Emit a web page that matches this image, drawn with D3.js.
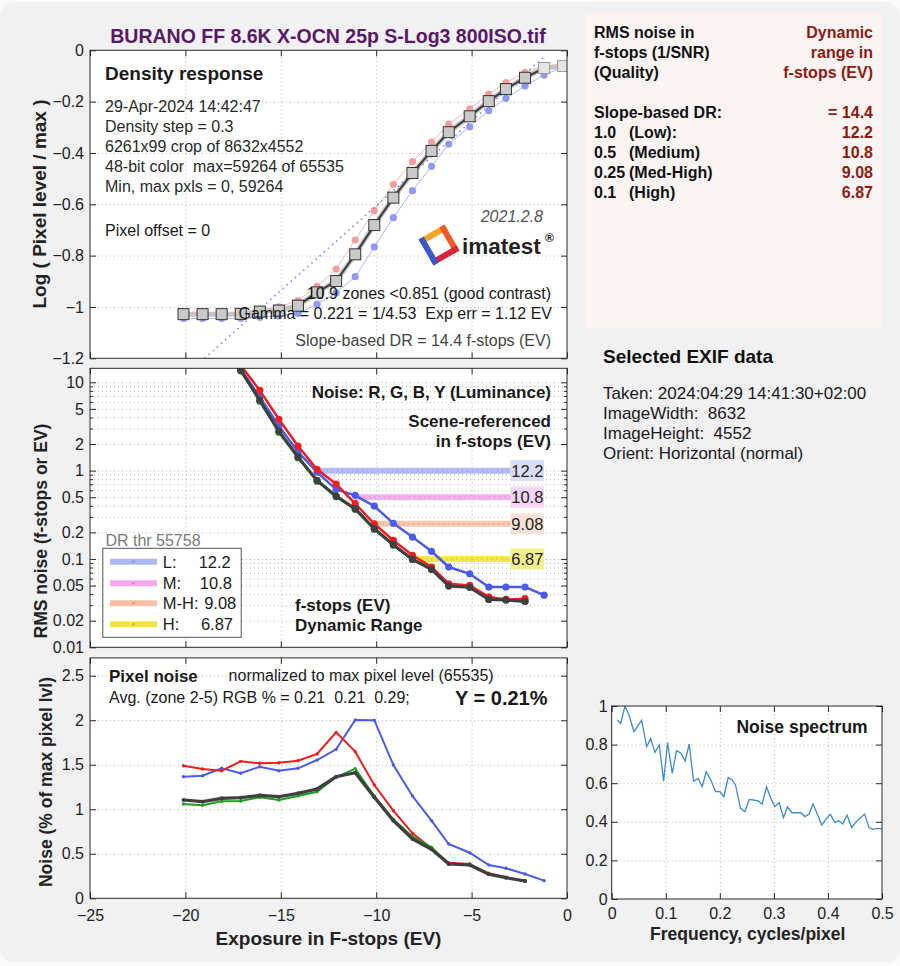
<!DOCTYPE html>
<html><head><meta charset="utf-8">
<script src="https://cdn.jsdelivr.net/npm/d3@7"></script>
<style>
body{margin:0;background:#fafafa;}
svg{display:block;}
text{font-family:"Liberation Sans",Arial,Helvetica,sans-serif;white-space:pre;}
</style>
</head><body>
<svg id="c" width="900" height="966"></svg>
<script>
// ---------------- DATA ----------------
const evStops = [-20.1,-19.1,-18.1,-17.1,-16.1,-15.1,-14.1,-13.1,-12.1,-11.1,-10.1,-9.1,-8.1,-7.1,-6.2,-5.1,-4.1,-3.2,-2.2,-1.2,-0.2];

// Density response: log(pixel level / max)
const densityY = [-1.028,-1.028,-1.028,-1.027,-1.018,-1.014,-0.995,-0.943,-0.899,-0.795,-0.681,-0.574,-0.478,-0.392,-0.319,-0.257,-0.198,-0.151,-0.107,-0.069,-0.061];
const densityR = [-1.025,-1.025,-1.025,-1.024,-1.012,-1.0,-0.975,-0.92,-0.852,-0.739,-0.625,-0.522,-0.434,-0.358,-0.288,-0.228,-0.171,-0.126,-0.086,-0.060,-0.058];
const densityB = [-1.045,-1.045,-1.045,-1.044,-1.04,-1.035,-1.025,-0.989,-0.945,-0.882,-0.766,-0.652,-0.547,-0.452,-0.365,-0.298,-0.235,-0.187,-0.139,-0.096,-0.065];
const slopeLineEV = [-19.0, -1.2];
const slopeLineLog = [-1.2, -0.025];

// RMS noise in f-stops (start at evStops[3])
const noiseFirst = 3;
const noiseR = [15.5,8.1,3.81,1.90,1.035,0.705,0.422,0.25,0.162,0.110,0.081,0.0524,0.0502,0.0372,0.0348,0.0355];
const noiseG = [13.5,6.1,2.72,1.40,0.76,0.505,0.365,0.217,0.143,0.099,0.077,0.051,0.049,0.0352,0.0345,0.0335];
const noiseB = [14.2,6.8,3.2,1.63,0.96,0.614,0.525,0.397,0.253,0.177,0.122,0.081,0.068,0.048,0.048,0.048,0.0389];
const noiseY = [13.7,6.25,2.79,1.43,0.776,0.515,0.371,0.22,0.145,0.0988,0.0762,0.0493,0.0477,0.0348,0.0343,0.033];

// Dynamic range thresholds
const drNames = ["L:","M:","M-H:","H:"];
const drLevels = [1.0, 0.5, 0.25, 0.1];
const drStartEV = [-13.1, -11.15, -10.15, -8.15];
const drEndEV = -2.96;
const drLabels = ["12.2","10.8","9.08","6.87"];

// Pixel noise (% of max pixel level)
const pixR = [1.489,1.452,1.433,1.538,1.516,1.523,1.545,1.621,1.864,1.647,1.272,0.984,0.730,0.561,0.400,0.385,0.281,0.236,0.194];
const pixG = [1.059,1.044,1.089,1.093,1.134,1.104,1.149,1.197,1.359,1.456,1.149,0.887,0.692,0.573,0.385,0.385,0.27,0.232,0.192];
const pixB = [1.366,1.377,1.46,1.404,1.478,1.433,1.46,1.553,1.673,2.002,2.0,1.497,1.149,0.872,0.610,0.512,0.374,0.337,0.273,0.198];
const pixY = [1.104,1.085,1.123,1.13,1.157,1.141,1.179,1.228,1.366,1.411,1.134,0.872,0.666,0.55,0.385,0.374,0.27,0.232,0.194];

// Noise spectrum
const specFreq = [0.0104,0.0166,0.0246,0.0320,0.0412,0.0554,0.0646,0.0720,0.0800,0.0880,0.0960,0.1034,0.1120,0.1200,0.1280,0.1360,0.1434,0.1514,0.1600,0.1674,0.1748,0.1834,0.1921,0.2001,0.2075,0.2155,0.2229,0.2290,0.2383,0.2463,0.2543,0.2616,0.2709,0.2783,0.2863,0.2943,0.3017,0.3097,0.3177,0.3251,0.3337,0.3417,0.3497,0.3571,0.3645,0.3725,0.3805,0.3885,0.3965,0.4045,0.4125,0.4199,0.4273,0.4353,0.4439,0.4513,0.4593,0.4679,0.4759,0.4833,0.4913,0.5000];
const specVal = [0.927,0.910,1.0,0.953,0.867,0.927,0.789,0.832,0.760,0.798,0.611,0.810,0.651,0.769,0.755,0.715,0.803,0.611,0.625,0.582,0.660,0.617,0.556,0.556,0.530,0.629,0.617,0.591,0.470,0.452,0.516,0.513,0.508,0.492,0.582,0.522,0.478,0.499,0.421,0.478,0.447,0.447,0.447,0.427,0.439,0.492,0.439,0.383,0.415,0.439,0.397,0.406,0.389,0.435,0.370,0.397,0.418,0.440,0.370,0.361,0.366,0.363];

// Ticks
const xTicks = [-25,-20,-15,-10,-5,0];
const densTicks = [-1.2,-1,-0.8,-0.6,-0.4,-0.2,0];
const noiseTicks = [0.01,0.02,0.05,0.1,0.2,0.5,1,2,5,10];
const noiseTickLabels = ["0.01","0.02","0.05","0.1","0.2","0.5","1","2","5","10"];
const pixTicks = [0,0.5,1,1.5,2,2.5];
const specXTicks = [0,0.1,0.2,0.3,0.4,0.5];
const specYTicks = [0,0.2,0.4,0.6,0.8,1];

// Text blocks
const densityInfo = ["29-Apr-2024 14:42:47","Density step = 0.3","6261x99 crop of 8632x4552","48-bit color  max=59264 of 65535","Min, max pxls = 0, 59264"];
const drTableLeft = [["RMS noise in",""],["f-stops (1/SNR)",""],["(Quality)",""],null,["Slope-based DR:",""],["1.0","(Low):"],["0.5","(Medium)"],["0.25","(Med-High)"],["0.1","(High)"]];
const drTableRight = ["Dynamic","range in","f-stops (EV)",null,"= 14.4","12.2","10.8","9.08","6.87"];
const exifLines = ["Taken: 2024:04:29 14:41:30+02:00","ImageWidth:  8632","ImageHeight:  4552","Orient: Horizontal (normal)"];

// ---------------- DRAW ----------------
const svg = d3.select("#c");
const FONT = '"Liberation Sans",Arial,Helvetica,sans-serif';
const COL = {R:"#f01e1e", G:"#1f9e1f", B:"#4a5cf0", Y:"#3f3f3f"};
const numFmt = d3.format("");

function T(g,x,y,s,o={}){
  const t=g.append("text").attr("x",x).attr("y",y).text(s)
    .attr("font-size",o.size||16).attr("font-weight",o.bold?"bold":"normal")
    .attr("text-anchor",o.anchor||"start").attr("fill",o.fill||"#1a1a1a");
  if(o.italic) t.attr("font-style","italic");
  return t;
}
function RT(g,x,y,s,o={}){
  return T(g,0,0,s,Object.assign({},o,{anchor:"middle"})).attr("dy","0.35em")
    .attr("transform",`translate(${x},${y}) rotate(-90)`);
}

svg.append("rect").attr("width",900).attr("height",966).attr("fill","#fafafa");
svg.append("rect").attr("x",0).attr("y",2).attr("width",900).attr("height",960).attr("rx",14).attr("fill","#f1f0f3");
svg.append("rect").attr("x",585).attr("y",13).attr("width",297).attr("height",315).attr("fill","#fcf4f3");

const xEV = d3.scaleLinear().domain([-25,0]).range([90,567]);
const yDen = d3.scaleLinear().domain([-1.2,0]).range([358.3,50.3]);
const yNoise = d3.scaleLog().domain([0.01,14.4]).range([647.3,368.3]);
const yPix = d3.scaleLinear().domain([0,2.7]).range([898.3,657.9]);
const xSpec = d3.scaleLinear().domain([0,0.5]).range([611.7,882]);
const ySpec = d3.scaleLinear().domain([0,1]).range([899,706]);

let clipN=0;
function panelBase(x,y,xg,yg){
  const [x0,x1]=x.range(), [yb,yt]=y.range();
  const g=svg.append("g");
  g.append("rect").attr("x",x0).attr("y",yt).attr("width",x1-x0).attr("height",yb-yt).attr("fill","#fff");
  const a=g.append("g");
  a.append("g").attr("transform",`translate(0,${yb})`).call(d3.axisBottom(x).tickValues(xg).tickSize(-(yb-yt)).tickFormat(""));
  a.append("g").attr("transform",`translate(${x0},0)`).call(d3.axisLeft(y).tickValues(yg).tickSize(-(x1-x0)).tickFormat(""));
  a.selectAll(".domain").remove();
  a.selectAll("line").attr("stroke","#a9a9a9").attr("stroke-dasharray","1,3").attr("stroke-width",0.9);
  const id="clip"+(clipN++);
  svg.append("clipPath").attr("id",id).append("rect").attr("x",x0).attr("y",yt).attr("width",x1-x0).attr("height",yb-yt);
  const d=g.append("g").attr("clip-path",`url(#${id})`);
  return {g,d};
}
function frame(g,x,y,o){
  const [x0,x1]=x.range(), [yb,yt]=y.range();
  const a=g.append("g");
  a.append("g").attr("transform",`translate(0,${yb})`).call(d3.axisBottom(x).tickValues(o.xt).tickSize(-6).tickPadding(o.xpad||11).tickFormat(o.xf===undefined?"":o.xf));
  a.append("g").attr("transform",`translate(0,${yt})`).call(d3.axisTop(x).tickValues(o.xt).tickSize(-6).tickFormat(""));
  a.append("g").attr("transform",`translate(${x0},0)`).call(d3.axisLeft(y).tickValues(o.yt).tickSize(-6).tickPadding(o.ypad||6).tickFormat(o.yf===undefined?numFmt:o.yf));
  a.append("g").attr("transform",`translate(${x1},0)`).call(d3.axisRight(y).tickValues(o.yt).tickSize(-6).tickFormat(""));
  if(o.minor){
    a.append("g").attr("transform",`translate(${x0},0)`).call(d3.axisLeft(y).tickValues(o.minor).tickSize(-3).tickFormat(""));
    a.append("g").attr("transform",`translate(${x1},0)`).call(d3.axisRight(y).tickValues(o.minor).tickSize(-3).tickFormat(""));
  }
  a.selectAll(".domain").remove();
  a.selectAll("line").attr("stroke","#2a2a2a");
  a.selectAll("text").attr("font-size",16).attr("fill","#222").attr("font-family",FONT);
  g.append("rect").attr("x",x0).attr("y",yt).attr("width",x1-x0).attr("height",yb-yt)
    .attr("fill","none").attr("stroke","#2a2a2a").attr("stroke-width",1);
}
const zip=(xs,vs)=>vs.map((v,i)=>[xs[i],v]);

// ===== Title =====
T(svg,328,42.5,"BURANO FF 8.6K X-OCN 25p S-Log3 800ISO.tif",{size:19.5,bold:true,anchor:"middle",fill:"#5a1868"});

// ===== Panel 1: Density response =====
{
  const {g,d}=panelBase(xEV,yDen,xTicks.slice(1,-1),densTicks.slice(1,-1));
  const line=d3.line().x(p=>xEV(p[0])).y(p=>yDen(p[1]));
  const ptsY=zip(evStops,densityY), ptsR=zip(evStops,densityR), ptsB=zip(evStops,densityB);
  d.append("path").attr("d",line(ptsY)).attr("fill","none").attr("stroke","#c4c4c4").attr("stroke-width",5);
  d.append("path").attr("d",line(ptsR)).attr("fill","none").attr("stroke","#f4b4b4").attr("stroke-width",1);
  d.append("path").attr("d",line(ptsB)).attr("fill","none").attr("stroke","#a9b2f4").attr("stroke-width",1);
  d.selectAll(".rd").data(ptsR).join("circle").attr("cx",p=>xEV(p[0])).attr("cy",p=>yDen(p[1])).attr("r",3.6).attr("fill","#f79d9d");
  d.selectAll(".bd").data(ptsB).join("circle").attr("cx",p=>xEV(p[0])).attr("cy",p=>yDen(p[1])).attr("r",3.6).attr("fill","#8e9af5");
  d.append("path").attr("d",line(zip(slopeLineEV,slopeLineLog))).attr("fill","none")
    .attr("stroke","#7a84ee").attr("stroke-width",1.6).attr("stroke-dasharray","1.5,4");
  // texts
  T(g,105,79.5,"Density response",{size:19,bold:true});
  densityInfo.forEach((s,i)=>T(g,105,112.4+i*20,s,{size:16,fill:"#2a2a2a"}));
  T(g,105,235.7,"Pixel offset = 0",{size:16});
  T(g,543,222.4,"2021.2.8",{size:16,italic:true,anchor:"end",fill:"#555"});
  // imatest logo
  const lg=g.append("g").attr("transform","translate(439,245) rotate(15)");
  const s=12, corners=[[0,-s*1.414],[s*1.414,0],[0,s*1.414],[-s*1.414,0]];
  const segCols=["#f6a11f","#ef5a2a","#d9263e","#3a58c6"];
  for(let i=0;i<4;i++){
    const p=corners[(i+3)%4], q=corners[i];
    lg.append("line").attr("x1",p[0]).attr("y1",p[1]).attr("x2",q[0]).attr("y2",q[1])
      .attr("stroke",segCols[i]).attr("stroke-width",6).attr("stroke-linecap","square");
  }
  T(g,462,254,"imatest",{size:22.5,bold:true,fill:"#222"});
  T(g,545,242,"®",{size:12,bold:true,fill:"#222"});
  T(g,551,299,"10.9 zones <0.851 (good contrast)",{size:16,anchor:"end"});
  T(g,552,319,"Gamma = 0.221 = 1/4.53  Exp err = 1.12 EV",{size:16,anchor:"end"});
  T(g,551,346.4,"Slope-based DR = 14.4 f-stops (EV)",{size:16,anchor:"end",fill:"#444"});
  // dark Y line & squares
  d.append("path").attr("d",line(ptsY.slice(6,20))).attr("fill","none").attr("stroke","#3a3a3a").attr("stroke-width",2);
  const sq=11;
  d.selectAll(".sq").data(ptsY).join("rect")
    .attr("x",p=>xEV(p[0])-sq/2).attr("y",p=>yDen(p[1])-sq/2).attr("width",sq).attr("height",sq)
    .attr("fill",(p,i)=>i>=19?"#e6e6e6":"#c9c9c9").attr("stroke",(p,i)=>i>=19?"#9a9a9a":"#333").attr("stroke-width",1);
  frame(g,xEV,yDen,{xt:xTicks,yt:densTicks});
  RT(g,39,204,"Log ( Pixel level / max )",{size:19,bold:true,fill:"#222"});
}

// ===== Panel 2: RMS noise =====
{
  const evN=evStops.slice(noiseFirst);
  const minor=yNoise.ticks().filter(v=>noiseTicks.indexOf(+v.toPrecision(3))<0);
  const {g,d}=panelBase(xEV,yNoise,xTicks.slice(1,-1),yNoise.ticks());
  const line=d3.line().x(p=>xEV(p[0])).y(p=>yNoise(p[1]));
  const bandCol=["#aeb6f6","#f3a9ee","#f7c0a4","#f2e43c"];
  const dotCol=["#8b95e8","#d982d4","#e49a78","#c9bb10"];
  const boxCol=["#dadcf8","#f5d3f2","#fbe2d5","#f5ee8a"];
  drLevels.forEach((lv,i)=>{
    d.append("line").attr("x1",xEV(drStartEV[i])).attr("x2",xEV(drEndEV)).attr("y1",yNoise(lv)).attr("y2",yNoise(lv))
      .attr("stroke",bandCol[i]).attr("stroke-width",6).attr("opacity",0.9);
    d.append("line").attr("x1",xEV(drStartEV[i])).attr("x2",xEV(drEndEV)).attr("y1",yNoise(lv)).attr("y2",yNoise(lv))
      .attr("stroke",dotCol[i]).attr("stroke-width",1.2).attr("stroke-dasharray","1,4");
  });
  const series=[["B",noiseB],["G",noiseG],["R",noiseR],["Y",noiseY]];
  series.forEach(([k,vals])=>{
    const p=zip(evN,vals);
    d.append("path").attr("d",line(p)).attr("fill","none").attr("stroke",COL[k]).attr("stroke-width",k==="Y"?3:2.5);
    d.selectAll(".m"+k).data(p).join("circle").attr("cx",q=>xEV(q[0])).attr("cy",q=>yNoise(q[1])).attr("r",3.6).attr("fill",COL[k]);
  });
  drLevels.forEach((lv,i)=>{
    const yy=yNoise(lv);
    g.append("rect").attr("x",xEV(drEndEV)).attr("y",yy-10.5).attr("width",33.5).attr("height",21).attr("fill",boxCol[i]);
    T(g,xEV(drEndEV)+16.8,yy+6,drLabels[i],{size:16.5,anchor:"middle",fill:"#222"});
  });
  T(g,551,398.4,"Noise: R, G, B, Y (Luminance)",{size:17,bold:true,anchor:"end"});
  T(g,551,427.1,"Scene-referenced",{size:17,bold:true,anchor:"end"});
  T(g,551,447.1,"in f-stops (EV)",{size:17,bold:true,anchor:"end"});
  T(g,295,611.1,"f-stops (EV)",{size:17,bold:true});
  T(g,295,631.1,"Dynamic Range",{size:17,bold:true});
  // legend
  T(g,105.4,545.7,"DR thr 55758",{size:16,fill:"#7a7a7a"});
  g.append("rect").attr("x",102.8).attr("y",548.3).attr("width",138.4).attr("height",89).attr("fill","#fff").attr("stroke","#555").attr("stroke-width",1);
  const legY=[561.7,583.3,603.3,624.3];
  const valX=[198.7,199.8,204.2,200.9];
  drNames.forEach((nm,i)=>{
    g.append("line").attr("x1",110).attr("x2",157).attr("y1",legY[i]).attr("y2",legY[i]).attr("stroke",bandCol[i]).attr("stroke-width",6);
    g.append("circle").attr("cx",133.5).attr("cy",legY[i]).attr("r",1.4).attr("fill",dotCol[i]);
    T(g,162.8,legY[i]+5.9,nm,{size:16.5});
    T(g,valX[i],legY[i]+5.9,drLabels[i],{size:16.5});
  });
  frame(g,xEV,yNoise,{xt:xTicks,yt:noiseTicks,yf:v=>noiseTickLabels[noiseTicks.indexOf(v)],minor:minor});
  RT(g,40.7,531,"RMS noise (f-stops or EV)",{size:17.5,bold:true,fill:"#222"});
}

// ===== Panel 3: Pixel noise =====
{
  const {g,d}=panelBase(xEV,yPix,xTicks.slice(1,-1),pixTicks.slice(1));
  const line=d3.line().x(p=>xEV(p[0])).y(p=>yPix(p[1]));
  const series=[["B",pixB],["R",pixR],["G",pixG],["Y",pixY]];
  series.forEach(([k,vals])=>{
    const p=zip(evStops,vals);
    d.append("path").attr("d",line(p)).attr("fill","none").attr("stroke",COL[k]).attr("stroke-width",k==="Y"?3.2:2);
    d.selectAll(".p"+k).data(p).join("circle").attr("cx",q=>xEV(q[0])).attr("cy",q=>yPix(q[1])).attr("r",k==="Y"?2:1.7).attr("fill",COL[k]);
  });
  T(g,109,681.8,"Pixel noise",{size:17,bold:true});
  T(g,228.6,681.4,"normalized to max pixel level (65535)",{size:16});
  T(g,109,703.4,"Avg. (zone 2-5) RGB % = 0.21  0.21  0.29;",{size:16});
  T(g,547.5,704.9,"Y = 0.21%",{size:20,bold:true,anchor:"end"});
  frame(g,xEV,yPix,{xt:xTicks,yt:pixTicks,xf:numFmt,yf:numFmt});
  RT(g,46,782,"Noise (% of max pixel lvl)",{size:17.5,bold:true,fill:"#222"});
  T(g,328.5,944.8,"Exposure in F-stops (EV)",{size:19,bold:true,anchor:"middle",fill:"#222"});
}

// ===== Right text box =====
{
  const g=svg.append("g");
  drTableLeft.forEach((r,i)=>{
    if(!r) return;
    const y=37.5+i*20;
    T(g,594,y,r[0],{size:16,bold:true,fill:"#111"});
    if(r[1]) T(g,629,y,r[1],{size:16,bold:true,fill:"#111"});
  });
  drTableRight.forEach((s,i)=>{
    if(!s) return;
    T(g,873,37.5+i*20,s,{size:16,bold:true,anchor:"end",fill:"#8e1b12"});
  });
  T(g,603,362.5,"Selected EXIF data",{size:19,bold:true,fill:"#111"});
  exifLines.forEach((s,i)=>T(g,603,398.5+i*20,s,{size:17,fill:"#1a1a1a"}));
}

// ===== Noise spectrum =====
{
  const {g,d}=panelBase(xSpec,ySpec,specXTicks.slice(1,-1),specYTicks.slice(1,-1));
  const line=d3.line().x(p=>xSpec(p[0])).y(p=>ySpec(p[1]));
  d.append("path").attr("d",line(zip(specFreq,specVal))).attr("fill","none").attr("stroke","#3f8bd2").attr("stroke-width",1.3);
  T(g,867.7,733,"Noise spectrum",{size:17.5,bold:true,anchor:"end"});
  frame(g,xSpec,ySpec,{xt:specXTicks,yt:specYTicks,xf:numFmt,yf:numFmt,xpad:9,ypad:4});
  T(g,747.7,939.6,"Frequency, cycles/pixel",{size:17.5,bold:true,anchor:"middle",fill:"#222"});
}
</script>
</body></html>
